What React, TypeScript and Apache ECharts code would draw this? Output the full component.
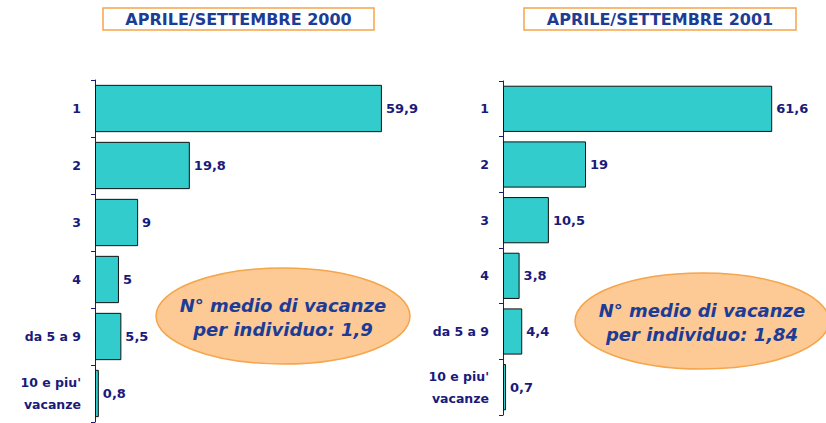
import React, { useEffect, useRef } from "react";
import * as echarts from "echarts";

const categories = ["1", "2", "3", "4", "da 5 a 9", "10 e piu'\nvacanze"];
const values2000 = [59.9, 19.8, 9, 5, 5.5, 0.8];
const values2001 = [61.6, 19, 10.5, 3.8, 4.4, 0.7];
const title2000 = "APRILE/SETTEMBRE 2000";
const title2001 = "APRILE/SETTEMBRE 2001";
const note2000 = ["N° medio di vacanze", "per individuo: 1,9"];
const note2001 = ["N° medio di vacanze", "per individuo: 1,84"];

const NAVY = "#1a1a7a";
const BLUE = "#1c3c96";
const FONT = "'DejaVu Sans', Verdana, sans-serif";

const fmt = (v: number) => String(v).replace(".", ",");

export default function App() {
  const ref = useRef<HTMLDivElement>(null);
  useEffect(() => {
    if (!ref.current) return;
    const chart = echarts.init(ref.current, undefined, { renderer: "svg" });
    const yAxisBase = {
      type: "category" as const,
      data: categories,
      inverse: true,
      axisLine: { show: true, lineStyle: { color: NAVY, width: 1 } },
      axisTick: { show: true, length: 4, lineStyle: { color: NAVY } },
      axisLabel: {
        color: NAVY,
        fontFamily: FONT,
        fontWeight: "bold" as const,
        fontSize: 12.5,
        margin: 14,
        lineHeight: 22,
      },
    };
    const xAxisBase = {
      type: "value" as const,
      min: 0,
      show: false,
      splitLine: { show: false },
    };
    const barBase = {
      type: "bar" as const,
      barCategoryGap: "17%",
      itemStyle: { color: "#33cccc", borderColor: "#111111", borderWidth: 1 },
      label: {
        show: true,
        position: "right" as const,
        distance: 4,
        color: NAVY,
        fontFamily: FONT,
        fontWeight: "bold" as const,
        fontSize: 13,
        formatter: (p: any) => fmt(p.value),
      },
    };
    const titleBox = (x: number, w: number, text: string) => ({
      type: "group",
      children: [
        {
          type: "rect",
          shape: { x, y: 8, width: w, height: 22 },
          style: { fill: "#ffffff", stroke: "#f5a54a", lineWidth: 1.5 },
        },
        {
          type: "text",
          x: x + w / 2,
          y: 19,
          style: {
            text,
            fill: BLUE,
            font: `bold 16px ${FONT}`,
            textAlign: "center",
            textVerticalAlign: "middle",
          },
        },
      ],
    });
    const oval = (cx: number, cy: number, lines: string[]) => ({
      type: "group",
      children: [
        {
          type: "ellipse",
          shape: { cx, cy, rx: 127, ry: 48 },
          style: { fill: "#fdc994", stroke: "#f5a54a", lineWidth: 1.5 },
        },
        {
          type: "text",
          x: cx,
          y: cy - 11,
          style: {
            text: lines[0],
            fill: BLUE,
            font: `italic bold 18px ${FONT}`,
            textAlign: "center",
            textVerticalAlign: "middle",
          },
        },
        {
          type: "text",
          x: cx,
          y: cy + 13,
          style: {
            text: lines[1],
            fill: BLUE,
            font: `italic bold 18px ${FONT}`,
            textAlign: "center",
            textVerticalAlign: "middle",
          },
        },
      ],
    });
    chart.setOption({
      animation: false,
      backgroundColor: "#ffffff",
      grid: [
        { left: 95, top: 80, width: 60 * 4.79, height: 342 },
        { left: 503, top: 81, width: 62 * 4.37, height: 334 },
      ],
      xAxis: [
        { ...xAxisBase, gridIndex: 0, max: 60 },
        { ...xAxisBase, gridIndex: 1, max: 62 },
      ],
      yAxis: [
        { ...yAxisBase, gridIndex: 0 },
        { ...yAxisBase, gridIndex: 1 },
      ],
      series: [
        { ...barBase, xAxisIndex: 0, yAxisIndex: 0, data: values2000 },
        { ...barBase, xAxisIndex: 1, yAxisIndex: 1, data: values2001 },
      ],
      graphic: [
        titleBox(103, 271, title2000),
        titleBox(524, 272, title2001),
        oval(283, 316, note2000),
        oval(702, 321, note2001),
      ],
    });
    return () => chart.dispose();
  }, []);
  return <div ref={ref} style={{ width: 826, height: 423, position: "absolute", left: 0, top: 0 }} />;
}
